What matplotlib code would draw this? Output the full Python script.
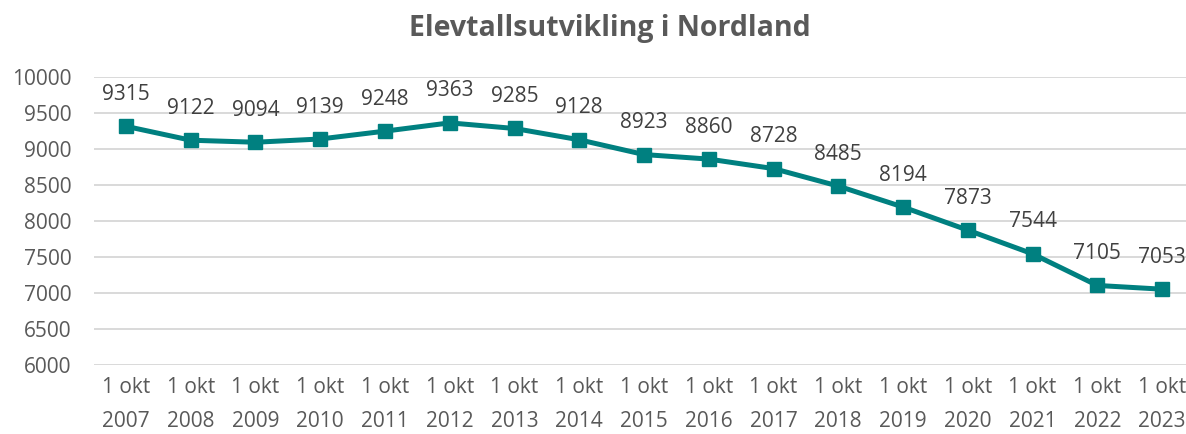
import matplotlib
matplotlib.use("Agg")
import matplotlib.pyplot as plt
import numpy as np

years = [2007, 2008, 2009, 2010, 2011, 2012, 2013, 2014, 2015,
         2016, 2017, 2018, 2019, 2020, 2021, 2022, 2023]
elever = [9315, 9122, 9094, 9139, 9248, 9363, 9285, 9128, 8923,
          8860, 8728, 8485, 8194, 7873, 7544, 7105, 7053]
tick_labels = ["1 okt\n" + str(y) for y in years]
y_ticks = list(range(6000, 10001, 500))

text_col = "#595959"
line_col = "#008080"
plt.rcParams["font.family"] = ["Open Sans", "DejaVu Sans"]

fig = plt.figure(figsize=(11.86, 4.34), dpi=100)
ax = fig.add_axes([94 / 1186, 69 / 434, 1 - 94 / 1186, 288 / 434])

x = np.arange(len(years))
ax.plot(x, elever, color=line_col, linewidth=3.6, marker="s",
        markersize=10, zorder=3)

for xi, v in zip(x, elever):
    ax.annotate(str(v), (xi, v), xytext=(0, 23), textcoords="offset points",
                ha="center", va="center", fontsize=15, color="#404040")

ax.set_ylim(6000, 10000)
ax.set_xlim(-0.494, 16.37)
ax.set_yticks(y_ticks)
ax.set_xticks(x)
ax.set_xticklabels(tick_labels, linespacing=1.85)
ax.tick_params(axis="both", length=0, labelsize=15, labelcolor=text_col)
ax.tick_params(axis="y", pad=16)
ax.tick_params(axis="x", pad=8.5)
ax.grid(axis="y", color="#D9D9D9", linewidth=1.4)
ax.set_axisbelow(True)
for s in ax.spines.values():
    s.set_visible(False)

fig.text(0.514, 0.935, "Elevtallsutvikling i Nordland", ha="center", va="center",
         fontsize=20.5, fontweight="bold", color=text_col)

fig.savefig("out.png", dpi=100)
